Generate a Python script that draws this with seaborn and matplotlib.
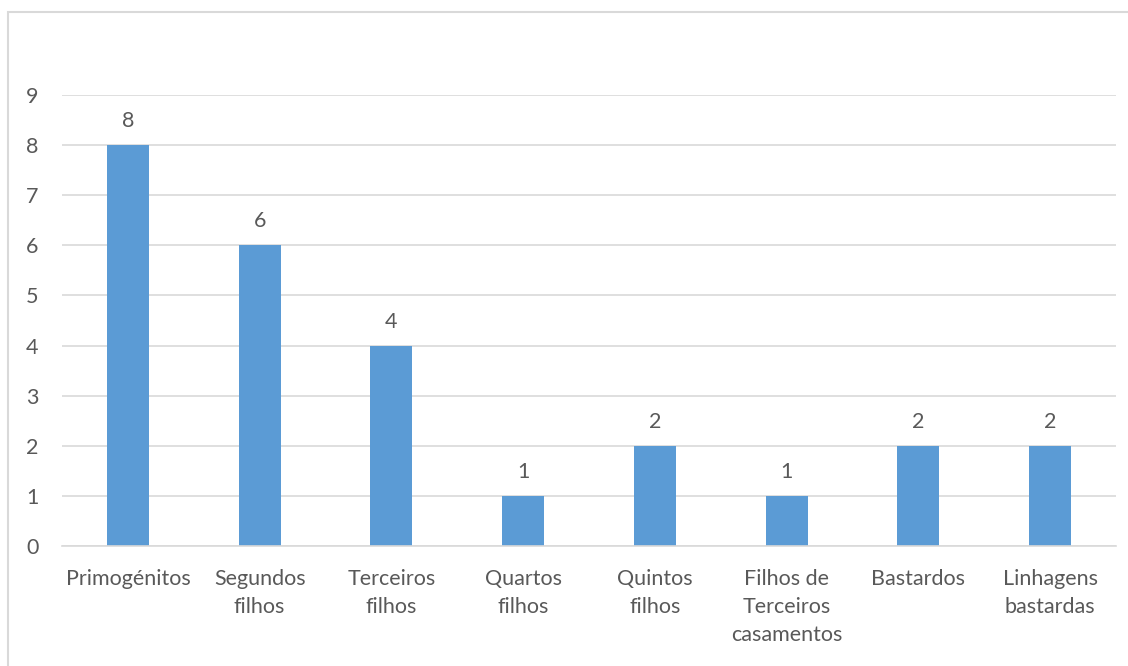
import matplotlib
matplotlib.use("Agg")
import matplotlib.pyplot as plt
import seaborn as sns
import pandas as pd
from matplotlib.patches import Rectangle

categories = ["Primogénitos", "Segundos\nfilhos", "Terceiros\nfilhos", "Quartos\nfilhos",
              "Quintos\nfilhos", "Filhos de\nTerceiros\ncasamentos", "Bastardos", "Linhagens\nbastardas"]
values = [8, 6, 4, 1, 2, 1, 2, 2]
yticks = list(range(0, 10))

sns.set_theme(style="white")
plt.rcParams['font.family'] = ['Lato', 'DejaVu Sans']

text_color = "#595959"
grid_color = "#D9D9D9"
bar_color = "#5B9BD5"
fs = 15.5

fig = plt.figure(figsize=(11.28, 6.66), dpi=100)
fig.patches.append(Rectangle((8/1128, -0.1), 1.2, 1 - 12/666 + 0.1, transform=fig.transFigure,
                             fill=False, edgecolor=grid_color, linewidth=1.5))
ax = fig.add_axes([62/1128, 1 - 546/666, (1116 - 62)/1128, (546 - 95)/666])

df = pd.DataFrame({"cat": categories, "val": values})
sns.barplot(data=df, x="cat", y="val", color=bar_color, width=0.32, ax=ax,
            saturation=1, linewidth=0)

ax.set_ylim(0, 9)
ax.set_yticks(yticks)
ax.set_xlabel("")
ax.set_ylabel("")
ax.yaxis.grid(True, color=grid_color, linewidth=1.2)
ax.set_axisbelow(True)
for s in ["top", "right", "left"]:
    ax.spines[s].set_visible(False)
ax.spines["bottom"].set_color(grid_color)
ax.spines["bottom"].set_linewidth(1.2)
ax.tick_params(axis="both", length=0, labelsize=fs, colors=text_color)
ax.tick_params(axis="y", pad=17)
ax.tick_params(axis="x", pad=16.5)
for lbl in ax.get_xticklabels():
    lbl.set_linespacing(1.5)
    lbl.set_verticalalignment("top")

for i, v in enumerate(values):
    ax.annotate(str(v), (i, v), xytext=(0, 10), textcoords="offset points",
                ha="center", va="bottom", fontsize=fs, color=text_color)

fig.savefig("out.png", dpi=100)
